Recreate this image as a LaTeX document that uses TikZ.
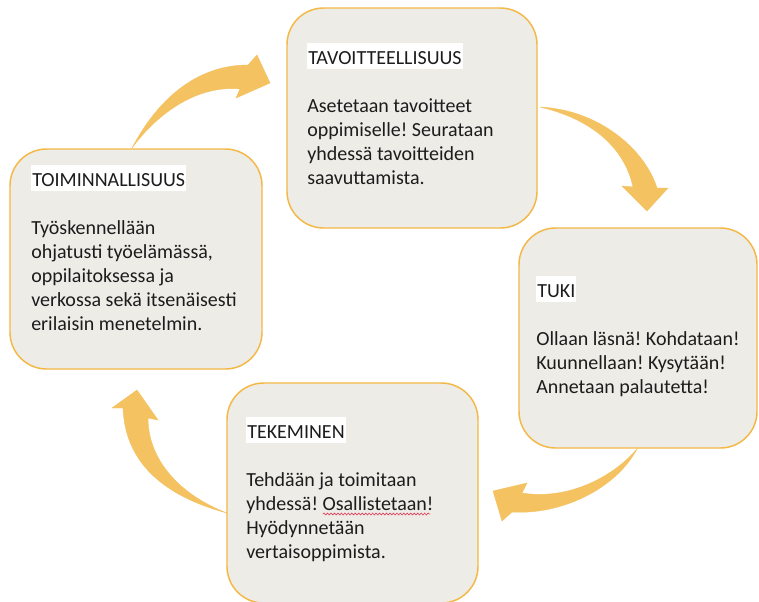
\documentclass[tikz,border=0pt]{standalone}
\usepackage{fontspec}
\setmainfont{Carlito}
\usetikzlibrary{decorations.pathmorphing}
\definecolor{boxfill}{HTML}{EEECE7}
\definecolor{boxline}{HTML}{F3B845}
\definecolor{arrowfill}{HTML}{F4C260}
\definecolor{ink}{HTML}{1C1C1C}
\definecolor{spell}{HTML}{E0405A}

% white highlight behind each heading
\newcommand\hltitle[1]{{\setlength\fboxsep{0pt}\colorbox{white}{\rule[-3.75pt]{0pt}{19.5pt}\hspace{0.75pt}#1\hspace{0.75pt}}}}
% text block: heading, empty line, body
\newcommand\boxtext[2]{\begin{minipage}[t]{185pt}\raggedright\frenchspacing\fontsize{15pt}{18pt}\selectfont\hltitle{#1}\\[18pt]#2\end{minipage}}

\tikzset{
  box/.style={draw=boxline, line width=1.1pt, fill=boxfill, rounded corners=27.5pt,
    minimum height=165pt, inner sep=0pt},
  txt/.style={anchor=base west, inner sep=0pt, text=ink},
  bigarrow/.style={fill=arrowfill, draw=arrowfill, line width=0.3pt, line join=miter},
  spellwave/.style={draw=spell, line width=0.5pt, decorate,
    decoration={snake, amplitude=0.7pt, segment length=2.6pt}}
}

\begin{document}
\begin{tikzpicture}[x=0.75pt, y=-0.75pt]
\useasboundingbox (0,0) rectangle (759,601);
\clip (0,0) rectangle (759,601);
\fill[white] (0,0) rectangle (759,601);

% curved block arrows
\filldraw[bigarrow] (132,148) .. controls (160,95) and (200,65) .. (248,65)
  -- (257,55) -- (270,83) -- (236,98) -- (240,89)
  .. controls (200,85) and (160,110) .. (132,148) -- cycle;
\filldraw[bigarrow] (540,107) .. controls (600,110) and (645,150) .. (657,188)
  -- (668,188) -- (647,211) -- (622,186) -- (633,187)
  .. controls (625,150) and (595,120) .. (540,107) -- cycle;
\filldraw[bigarrow] (637,449) .. controls (615,490) and (560,515) .. (512,512)
  -- (502,521) -- (493,491) -- (527,483) -- (522,493)
  .. controls (565,500) and (610,480) .. (637,449) -- cycle;
\filldraw[bigarrow] (227,513) .. controls (160,495) and (125,460) .. (123,408)
  -- (112,408) -- (137,390) -- (158,420) -- (148,418)
  .. controls (148,460) and (180,495) .. (227,513) -- cycle;

% boxes
\node[box, minimum width=187.5pt] (b1) at (412,118) {};
\node[box, minimum width=189pt]   (b2) at (136,259) {};
\node[box, minimum width=178.5pt] (b3) at (638,338) {};
\node[box, minimum width=188.25pt] (b4) at (352.5,493) {};

% texts
\node[txt] (t1) at (307,64) {\boxtext{TAVOITTEELLISUUS}{Asetetaan tavoitteet\\ oppimiselle! Seurataan\\ yhdessä tavoitteiden\\ saavuttamista.}};
\node[txt] (t2) at (31,186) {\boxtext{TOIMINNALLISUUS}{Työskennellään\\ ohjatusti työelämässä,\\ oppilaitoksessa ja\\ verkossa sekä itsenäisesti\\ erilaisin menetelmin.}};
\node[txt] (t3) at (536,297) {\boxtext{TUKI}{Ollaan läsnä! Kohdataan!\\ Kuunnellaan! Kysytään!\\ Annetaan palautetta!}};
\node[txt] (t4) at (246,438) {\boxtext{TEKEMINEN}{Tehdään ja toimitaan\\ yhdessä! Osallistetaan!\\ Hyödynnetään\\ vertaisoppimista.}};

% spell checker mark under "Osallistetaan"
\coordinate (w1) at (323,514);
\coordinate (w2) at (430,514);
\path[spellwave] (w1) -- (w2);
\end{tikzpicture}
\end{document}
